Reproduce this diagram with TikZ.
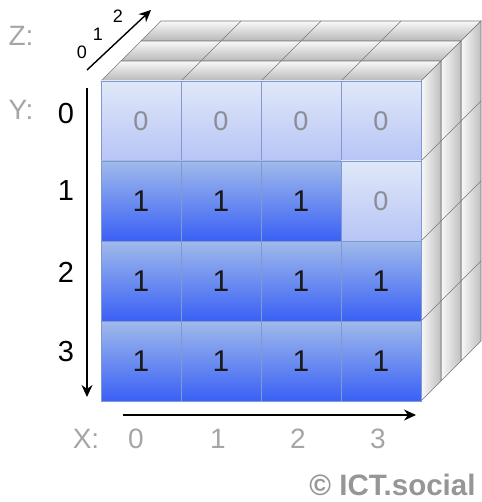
\documentclass[tikz,border=0pt]{standalone}
\usepackage{fontspec}
\setmainfont{Liberation Sans}
\usetikzlibrary{arrows.meta}
\definecolor{zerotop}{RGB}{224,232,248}
\definecolor{zerobot}{RGB}{184,196,246}
\definecolor{onetop}{RGB}{160,186,234}
\definecolor{onebot}{RGB}{58,96,246}
\definecolor{cellline}{RGB}{128,154,208}
\definecolor{zerotext}{RGB}{140,140,150}
\definecolor{edgegray}{RGB}{120,120,120}
\definecolor{lblgray}{RGB}{165,165,165}
\definecolor{copygray}{RGB}{150,150,150}

\begin{document}
\begin{tikzpicture}[x=1pt, y=-1pt,
  cell/.style={draw=cellline, line width=0.8pt, minimum width=80pt,
               minimum height=80pt, inner sep=0pt},
  val0/.style={cell, top color=zerotop, bottom color=zerobot, text=zerotext,
               font=\fontsize{27}{27}\selectfont},
  val1/.style={cell, top color=onetop, bottom color=onebot, text=black!90,
               font=\fontsize{30}{30}\selectfont},
  topface/.style={draw=edgegray, line width=0.6pt, top color=gray!5, bottom color=gray!55},
  sideface/.style={draw=edgegray, line width=0.6pt, left color=gray!5, right color=gray!50},
  edge/.style={draw=edgegray, line width=0.6pt},
  axis/.style={line width=1.4pt, -{Stealth[length=12pt, width=11pt]}},
  axlbl/.style={text=lblgray, font=\fontsize{28}{28}\selectfont},
  idx/.style={font=\fontsize{29}{29}\selectfont},
  zidx/.style={font=\fontsize{18}{18}\selectfont},
  ]
  \useasboundingbox (0,0) rectangle (481,502);

  % depth layers, back to front
  \foreach \z in {2,1,0} {
    \draw[topface] ({101+20*\z},{81-20*\z}) -- ++(320,0) -- ++(20,-20) -- ++(-320,0) -- cycle;
    \draw[sideface] ({421+20*\z},{81-20*\z}) -- ++(20,-20) -- ++(0,320) -- ++(-20,20) -- cycle;
    \foreach \k in {1,2,3} {
      \draw[edge] ({101+80*\k+20*\z},{81-20*\z}) -- ++(20,-20);
      \draw[edge] ({421+20*\z},{81+80*\k-20*\z}) -- ++(20,-20);
    }
  }

  % front face
  \foreach \row/\vals in {0/{0,0,0,0},1/{1,1,1,0},2/{1,1,1,1},3/{1,1,1,1}} {
    \foreach \v [count=\c from 0] in \vals
      \node[val\v] (cell-\row-\c) at ({141+80*\c},{121+80*\row}) {\v};
  }

  % axes
  \node[axlbl] (zlab) at (21,36) {Z:};
  \node[axlbl] (ylab) at (21,110) {Y:};
  \node[axlbl] (xlab) at (86,439) {X:};

  \foreach \i/\yy in {0/114,1/191,2/272,3/352}
    \node[idx] (y\i) at (66,\yy) {\i};
  \foreach \i/\xx in {0/136,1/218,2/298,3/378}
    \node[axlbl] (x\i) at (\xx,439) {\i};
  \node[zidx] (z0) at (82,52) {0};
  \node[zidx] (z1) at (98,34) {1};
  \node[zidx] (z2) at (118,16) {2};

  \coordinate (ytop) at (87,88);
  \coordinate (ybot) at (87,397);
  \coordinate (xleft) at (123,415);
  \coordinate (xright) at (416,415);
  \coordinate (zfront) at (87,70);
  \coordinate (zback) at (151,10);
  \draw[axis] (ytop) -- (ybot);
  \draw[axis] (xleft) -- (xright);
  \draw[axis] (zfront) -- (zback);

  \node[anchor=east, text=copygray, font=\bfseries\fontsize{29.5}{29.5}\selectfont]
    (copy) at (479,485) {© ICT.social};
\end{tikzpicture}
\end{document}
